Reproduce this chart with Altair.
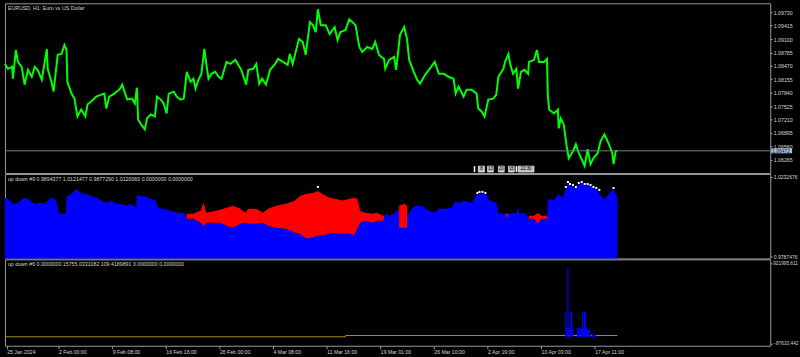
import altair as alt
import pandas as pd

FONT = "Liberation Sans"
FG = "#d4d4d4"
EDGE = "#9a9a9a"

X_MAX = 1827  # bar index at the right edge of the plot

# ---------------- x axis (bar index -> date label) ----------------
X_TICKS = [4, 128, 256, 384, 512, 640, 768, 896, 1024, 1152, 1280, 1408]
X_LABELS = ["25 Jan 2024", "2 Feb 00:00", "9 Feb 08:00", "16 Feb 16:00", "26 Feb 00:00",
            "4 Mar 08:00", "11 Mar 16:00", "19 Mar 01:00", "26 Mar 10:00", "2 Apr 19:00",
            "10 Apr 03:00", "17 Apr 11:00"]

# ---------------- panel 1: EURUSD H1 closes ----------------
PRICE_BAR = [0, 7, 17, 19, 26, 31, 40, 47, 55, 64, 71, 78, 88, 100, 102, 111, 116, 126, 135, 142,
             147, 149, 159, 166, 173, 182, 192, 197, 206, 218, 230, 237, 242, 249, 261, 273, 280, 287, 292, 303,
             310, 315, 318, 325, 334, 339, 348, 358, 363, 372, 379, 386, 391, 403, 410, 419, 427, 434, 443, 450,
             455, 462, 469, 476, 481, 486, 493, 502, 510, 517, 529, 538, 550, 557, 564, 576, 581, 593, 600, 607,
             614, 623, 633, 645, 652, 664, 675, 680, 687, 694, 702, 711, 718, 728, 735, 742, 747, 754, 766, 775,
             787, 794, 801, 813, 822, 837, 846, 853, 865, 877, 884, 893, 905, 908, 917, 929, 934, 943, 953, 960,
             965, 976, 984, 991, 1003, 1014, 1026, 1036, 1048, 1059, 1071, 1076, 1083, 1095, 1102, 1114, 1126, 1130, 1138, 1145,
             1154, 1166, 1173, 1178, 1190, 1194, 1202, 1206, 1213, 1221, 1225, 1232, 1240, 1249, 1251, 1263, 1270, 1275, 1287, 1294,
             1296, 1299, 1311, 1320, 1322, 1327, 1334, 1341, 1346, 1356, 1363, 1370, 1379, 1384, 1391, 1398, 1405, 1415, 1422, 1431,
             1441, 1450, 1453, 1458, 1462]
PRICE = [1.08517, 1.08400, 1.08447, 1.08167, 1.08843, 1.08563, 1.08447, 1.08027, 1.08377, 1.08213,
         1.08447, 1.08377, 1.08143, 1.08867, 1.08400, 1.08097, 1.07863, 1.08727, 1.08750, 1.08960,
         1.08843, 1.08097, 1.07817, 1.07700, 1.07280, 1.07443, 1.07280, 1.07560, 1.07630, 1.07747,
         1.07793, 1.07817, 1.07467, 1.07747, 1.07817, 1.07910, 1.08027, 1.07817, 1.07677, 1.07700,
         1.07583, 1.07957, 1.07210, 1.07093, 1.06977, 1.07233, 1.07327, 1.07280, 1.07747, 1.07677,
         1.07583, 1.07350, 1.07817, 1.07863, 1.07747, 1.07677, 1.07700, 1.08330, 1.08097, 1.08167,
         1.07933, 1.08143, 1.08283, 1.08867, 1.08493, 1.08167, 1.08283, 1.08330, 1.08213, 1.08167,
         1.08563, 1.08517, 1.08610, 1.08493, 1.08377, 1.08027, 1.08377, 1.08400, 1.08517, 1.08050,
         1.08167, 1.08027, 1.08377, 1.08517, 1.08633, 1.08563, 1.08493, 1.08750, 1.08517, 1.08797,
         1.09100, 1.09030, 1.08727, 1.09497, 1.09427, 1.09263, 1.09800, 1.09427, 1.09427, 1.09217,
         1.09380, 1.09077, 1.09263, 1.09310, 1.09567, 1.09427, 1.08913, 1.08797, 1.08913, 1.08867,
         1.09030, 1.08727, 1.08633, 1.08400, 1.08610, 1.08680, 1.08377, 1.09193, 1.09380, 1.09100,
         1.08610, 1.08330, 1.08143, 1.08050, 1.08260, 1.08400, 1.08563, 1.08283, 1.08283, 1.08213,
         1.08167, 1.07817, 1.07980, 1.07747, 1.07910, 1.07910, 1.07817, 1.07467, 1.07397, 1.07280,
         1.07677, 1.07700, 1.07793, 1.08213, 1.08400, 1.08563, 1.08750, 1.08517, 1.08283, 1.08400,
         1.07933, 1.08330, 1.08377, 1.08283, 1.08563, 1.08610, 1.08843, 1.08563, 1.08563, 1.08633,
         1.07793, 1.07443, 1.07350, 1.07443, 1.07000, 1.07233, 1.07093, 1.06580, 1.06300, 1.06463,
         1.06627, 1.06417, 1.06230, 1.06113, 1.06510, 1.06160, 1.06300, 1.06417, 1.06697, 1.06860,
         1.06650, 1.06417, 1.06160, 1.06463, 1.06472]
PRICE_TICKS = [1.09730, 1.09415, 1.09100, 1.08785, 1.08470, 1.08155, 1.07840,
               1.07525, 1.07210, 1.06895, 1.06580, 1.06265]
LAST_PRICE = 1.06472
P1_DOMAIN = [1.05950, 1.09940]

# small date/time boxes drawn near the bottom of the price window
BOX_LABELS = ["8", "13", "20", "15", "22:30"]
BOX_START = [1130, 1152, 1178, 1202, 1225]
BOX_END = [1145, 1166, 1192, 1216, 1263]
BOX_BARS = [1121, 1221]
BOX_TOP, BOX_BOTTOM, BOX_MID = 1.06113, 1.05973, 1.06043

# ---------------- panel 2: "up down #9" ----------------
BLUE_BAR = [0, 7, 19, 31, 43, 52, 59, 71, 83, 95, 102, 111, 119, 126, 128, 135, 145, 147, 159, 171,
            182, 194, 206, 218, 230, 242, 254, 265, 277, 289, 301, 313, 315, 325, 337, 348, 360, 365, 379, 396,
            410, 427, 432, 434, 450, 467, 474, 481, 493, 514, 529, 545, 562, 574, 581, 600, 616, 628, 647, 671,
            692, 704, 718, 735, 747, 758, 775, 789, 806, 822, 834, 841, 848, 860, 877, 889, 901, 905, 908, 917,
            929, 940, 943, 953, 960, 961, 972, 979, 995, 1012, 1026, 1036, 1050, 1067, 1074, 1085, 1097, 1114, 1128, 1138,
            1149, 1154, 1173, 1178, 1192, 1204, 1221, 1225, 1228, 1244, 1251, 1263, 1273, 1280, 1294, 1296, 1311, 1320, 1332, 1337,
            1344, 1351, 1363, 1370, 1379, 1386, 1394, 1403, 1410, 1417, 1427, 1434, 1441, 1453, 1458, 1462]
BLUE = [1.01154, 1.01098, 1.00819, 1.00874, 1.01098, 1.01154, 1.00986, 1.00819, 1.00874, 1.00819,
        1.00986, 1.01154, 1.01098, 1.00707, 1.00316, 1.00260, 1.00260, 1.01265, 1.01377, 1.01657,
        1.01433, 1.01377, 1.01265, 1.01154, 1.00986, 1.00874, 1.00986, 1.00819, 1.00819, 1.00707,
        1.00819, 1.00595, 1.01321, 1.01265, 1.01210, 1.01098, 1.00986, 1.00595, 1.00539, 1.00428,
        1.00316, 1.00316, 1.00148, 0.99981, 0.99981, 0.99757, 0.99590, 0.99757, 0.99757, 0.99757,
        0.99590, 0.99478, 0.99701, 0.99757, 0.99701, 0.99701, 0.99757, 0.99590, 0.99478, 0.99422,
        0.99198, 0.99143, 0.98864, 0.98919, 0.99031, 0.99031, 0.99143, 0.99143, 0.99143, 0.99143,
        0.99031, 0.99422, 0.99757, 0.99869, 0.99757, 0.99869, 0.99869, 0.99981, 1.00260, 1.00148,
        1.00260, 1.00539, 0.99478, 0.99478, 0.99478, 1.00148, 1.00539, 1.00707, 1.00707, 1.00428,
        1.00316, 1.00539, 1.00539, 1.00595, 1.00930, 1.00874, 1.00986, 1.00874, 1.01377, 1.01377,
        1.01377, 1.01042, 1.00874, 1.00316, 1.00260, 1.00260, 1.00316, 1.00595, 1.00316, 1.00260,
        0.99981, 0.99981, 0.99701, 0.99981, 0.99981, 1.01098, 1.00986, 1.01377, 1.01154, 1.01545,
        1.01992, 1.01824, 1.01712, 1.01936, 1.01992, 1.01824, 1.01936, 1.01712, 1.01712, 1.01489,
        1.01154, 1.01098, 1.01377, 1.01657, 1.01377, 1.01265]

RED_SEG = ["A"] * 35 + ["B"] * 3 + ["C"] * 2 + ["D"] * 5
RED_BAR = [434, 450, 467, 474, 481, 493, 514, 529, 545, 562, 574, 581, 600, 616, 628, 647, 671, 692, 704, 718,
           735, 747, 758, 775, 789, 806, 822, 834, 841, 848, 860, 877, 889, 901, 905,
           941, 953, 960,
           1197, 1201,
           1251, 1263, 1273, 1280, 1294]
RED_HI = [1.00260, 1.00260, 1.00428, 1.00874, 1.00316, 1.00372, 1.00483, 1.00595, 1.00707, 1.00539,
          1.00316, 1.00539, 1.00539, 1.00316, 1.00539, 1.00707, 1.00819, 1.00986, 1.01265, 1.01377,
          1.01433, 1.01545, 1.01377, 1.01154, 1.01098, 1.00986, 1.01098, 1.01154, 1.01098, 1.00428,
          1.00316, 1.00260, 1.00316, 1.00148, 1.00148,
          1.00707, 1.00819, 1.00707,
          1.00260, 1.00260,
          1.00148, 1.00148, 1.00316, 1.00148, 1.00148]
RED_LO = [0.99981, 0.99981, 0.99757, 0.99590, 0.99757, 0.99757, 0.99757, 0.99590, 0.99478, 0.99701,
          0.99757, 0.99701, 0.99701, 0.99757, 0.99590, 0.99478, 0.99422, 0.99198, 0.99143, 0.98864,
          0.98919, 0.99031, 0.99031, 0.99143, 0.99143, 0.99143, 0.99143, 0.99031, 0.99422, 0.99757,
          0.99869, 0.99757, 0.99869, 0.99869, 0.99981,
          0.99478, 0.99478, 0.99478,
          1.00092, 1.00092,
          0.99981, 0.99981, 0.99701, 0.99981, 0.99981]

WHITE_BAR = [747, 1128, 1133, 1140, 1147, 1339, 1344, 1349, 1356, 1363, 1370, 1377, 1384, 1391,
             1398, 1405, 1412, 1419, 1453]
WHITE = [1.01768, 1.01433, 1.01489, 1.01489, 1.01433, 1.01768, 1.02047, 1.01936, 1.01880, 1.01768,
         1.01992, 1.02047, 1.01936, 1.01936, 1.01880, 1.01768, 1.01712, 1.01600, 1.01712]
P2_TICKS = [1.0232676, 0.9787476]
P2_DOMAIN = [0.9774624, 1.0249434]
P2_HEADER = "up down #9 0.9894377 1.0121477 0.9877290 1.0120060 0.0000000 0.0000000"

# ---------------- panel 3: "up down #6" ----------------
HIST_BAR = [1339, 1341, 1344, 1346, 1349, 1351, 1353, 1356, 1367, 1370, 1372, 1375, 1377,
            1379, 1382, 1384, 1386, 1389, 1391, 1394, 1396, 1398, 1403, 1405, 1408, 1410]
HIST = [311000, 110000, 876000, 110000, 110000, 311000, 311000, 110000, 110000, 110000, 110000,
        110000, 110000, 311000, 110000, 311000, 311000, 110000, 87000, 87000, 87000, 40000,
        30000, 30000, 30000, 30000]
ORANGE_BAR = [0, 813, 1462]
ORANGE = [0.0, 15755.0331082, 15755.0331082]
P3_TICKS = [921995.611, -87610.442]
P3_DOMAIN = [-112538, 971830]
P3_HEADER = "up down #6 0.0000000 15755.0331082 109.4189891 0.0000000 0.0000000"

W = 771
H1, H2, H3 = 171, 85, 87

x_expr = ("[" + ",".join("'%s'" % s for s in X_LABELS) + "][indexof(["
          + ",".join(str(v) for v in X_TICKS) + "], datum.value)]")

xscale = alt.Scale(domain=[0, X_MAX], nice=False, zero=False)
x_hidden = alt.X("bar:Q", scale=xscale, axis=None)


def right_axis(values, fmt, size=5.3, pad=1):
    return alt.Axis(orient="right", values=values, tickCount=40, format=fmt, tickSize=2, labelPadding=pad,
                    domain=False, grid=False, labelFontSize=size, labelColor=FG, tickColor=EDGE,
                    labelFlush=False, labelOverlap=False, labelFont=FONT)


def header(text):
    return alt.Chart(pd.DataFrame({"t": [text]})).mark_text(
        align="left", baseline="middle", font=FONT, fontSize=5.3, color=FG
    ).encode(x=alt.value(3), y=alt.value(5), text="t:N")


one = pd.DataFrame({"p": [LAST_PRICE], "t": ["%.5f" % LAST_PRICE]})

# ----- panel 1 -----
price_df = pd.DataFrame({"bar": PRICE_BAR, "price": PRICE})
y1 = alt.Y("price:Q", scale=alt.Scale(domain=P1_DOMAIN, nice=False, zero=False),
           axis=right_axis(PRICE_TICKS, ".5f"), title=None)
line = alt.Chart(price_df).mark_line(color="#00FF00", strokeWidth=2).encode(x=x_hidden, y=y1)
last_rule = alt.Chart(one).mark_rule(color="#6f7f8f", strokeWidth=1).encode(y=alt.Y("p:Q", title=None))
last_box = alt.Chart(one).mark_rect(color="#a9bdd6").encode(
    x=alt.value(772), x2=alt.value(793),
    y=alt.datum(LAST_PRICE + 0.00058), y2=alt.datum(LAST_PRICE - 0.00058))
last_txt = alt.Chart(one).mark_text(align="left", baseline="middle", font=FONT, fontSize=5.0,
                                    color="#10203a").encode(
    x=alt.value(773), y=alt.Y("p:Q", title=None), text="t:N")
# black, invisible strip so the picture is exactly filled to the right edge
edge_fill = alt.Chart(one).mark_rect(color="#000000", opacity=0).encode(
    x=alt.value(W), x2=alt.value(W + 36), y=alt.value(0), y2=alt.value(2))

box_df = pd.DataFrame({"s": BOX_START, "e": BOX_END, "lab": BOX_LABELS,
                       "mid": [(a + b) / 2 for a, b in zip(BOX_START, BOX_END)]})
boxes = alt.Chart(box_df).mark_rect(color="#bdbdbd", stroke="#ffffff", strokeWidth=0.6).encode(
    x=alt.X("s:Q", scale=xscale, axis=None), x2="e:Q",
    y=alt.datum(BOX_TOP), y2=alt.datum(BOX_BOTTOM))
box_txt = alt.Chart(box_df).mark_text(font=FONT, fontSize=4.5, color="#000000", baseline="middle").encode(
    x=alt.X("mid:Q", scale=xscale, axis=None), y=alt.datum(BOX_MID), text="lab:N")
bar_df = pd.DataFrame({"bar": BOX_BARS})
box_bars = alt.Chart(bar_df).mark_rule(color="#ffffff", strokeWidth=1.5).encode(
    x=x_hidden, y=alt.datum(BOX_TOP), y2=alt.datum(BOX_BOTTOM))

panel1 = alt.layer(line, last_rule, boxes, box_txt, box_bars, last_box, last_txt, edge_fill,
                   header("EURUSD, H1:  Euro vs US Dollar")).properties(width=W, height=H1)

# ----- panel 2 -----
blue_df = pd.DataFrame({"bar": BLUE_BAR, "v": BLUE})
red_df = pd.DataFrame({"seg": RED_SEG, "bar": RED_BAR, "hi": RED_HI, "lo": RED_LO})
white_df = pd.DataFrame({"bar": WHITE_BAR, "v": WHITE})
y2s = alt.Scale(domain=P2_DOMAIN, nice=False, zero=False)
blue_area = alt.Chart(blue_df).mark_area(color="#0000FF", opacity=1).encode(
    x=x_hidden, y=alt.Y("v:Q", scale=y2s, axis=right_axis(P2_TICKS, ".7f", 5.1, 1), title=None),
    y2=alt.datum(P2_DOMAIN[0]))
red_area = alt.Chart(red_df).mark_area(color="#FF0000", opacity=1).encode(
    x=x_hidden, y=alt.Y("hi:Q", scale=y2s, title=None), y2="lo:Q", detail="seg:N")
white_pts = alt.Chart(white_df).mark_square(color="#ffffff", size=4, opacity=1).encode(
    x=x_hidden, y=alt.Y("v:Q", scale=y2s, title=None))
panel2 = alt.layer(blue_area, red_area, white_pts, header(P2_HEADER)).properties(width=W, height=H2)

# ----- panel 3 -----
hist_df = pd.DataFrame({"bar": HIST_BAR, "v": HIST})
orange_df = pd.DataFrame({"bar": ORANGE_BAR, "v": ORANGE})
y3s = alt.Scale(domain=P3_DOMAIN, nice=False, zero=False)
x_bottom = alt.X("bar:Q", scale=xscale, title=None,
                 axis=alt.Axis(orient="bottom", values=X_TICKS, tickCount=40, labelExpr=x_expr,
                               labelAlign="left", labelBaseline="middle", tickSize=3, labelPadding=2.5,
                               domain=False, grid=False, labelFontSize=5.2, labelColor=FG,
                               tickColor=EDGE, labelFont=FONT, labelFlush=False, labelOverlap=False))
orange = alt.Chart(orange_df).mark_line(color="#b08a10", strokeWidth=1, interpolate="step-after").encode(
    x=x_bottom, y=alt.Y("v:Q", scale=y3s, axis=right_axis(P3_TICKS, ".3f", 4.8, 0.5), title=None))
hist = alt.Chart(hist_df).mark_rule(color="#0000FF", strokeWidth=1.2).encode(
    x=x_bottom, y=alt.Y("v:Q", scale=y3s, title=None), y2=alt.datum(0))
panel3 = alt.layer(orange, hist, header(P3_HEADER)).properties(width=W, height=H3)

chart = alt.vconcat(panel1, panel2, panel3, spacing=1, bounds="flush").properties(
    background="#000000",
    padding={"left": 0, "top": 1, "right": -7, "bottom": 0},
).configure_view(stroke=EDGE, strokeWidth=1)

chart.save("out.html", embed_options={"renderer": "svg", "actions": False})
